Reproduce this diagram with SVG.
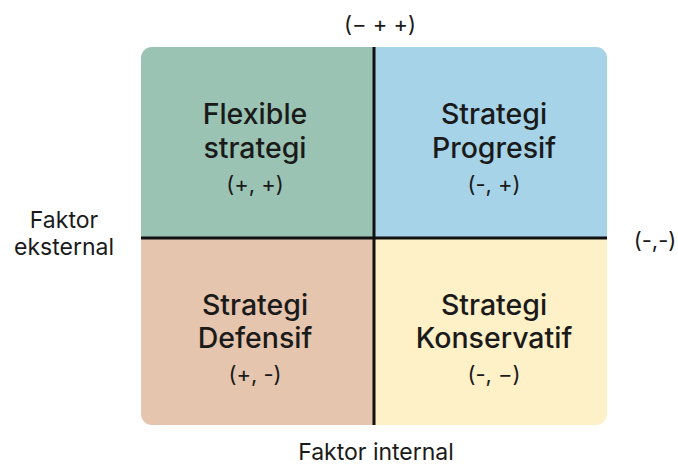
<svg xmlns="http://www.w3.org/2000/svg" width="678" height="466" viewBox="0 0 678 466">
<defs>
<clipPath id="c"><rect x="141" y="47" width="466" height="378" rx="11"/></clipPath>
</defs>
<style>
.t{font-family:Inter,"Noto Sans",sans-serif;font-size:28.5px;font-weight:500;fill:#1a1a1a;text-anchor:middle}
.s{font-family:Inter,"Noto Sans",sans-serif;font-size:22px;fill:#1a1a1a;text-anchor:middle}
.l{font-family:Inter,"Noto Sans",sans-serif;font-size:23px;fill:#1a1a1a;text-anchor:middle}
.ax{stroke:#111;stroke-width:3}
</style>
<rect width="678" height="466" fill="#fff"/>
<g clip-path="url(#c)">
<g id="q1"><rect x="141" y="47" width="233" height="191" fill="#9BC3B4"/></g>
<g id="q2"><rect x="374" y="47" width="233" height="191" fill="#A6D3E8"/></g>
<g id="q3"><rect x="141" y="238" width="233" height="187" fill="#E6C5AE"/></g>
<g id="q4"><rect x="374" y="238" width="233" height="187" fill="#FEF0C7"/></g>
</g>
<g id="axes">
<line class="ax" x1="374" y1="47" x2="374" y2="425"/>
<line class="ax" x1="141" y1="238" x2="607" y2="238"/>
</g>
<g id="t1">
<text class="t" x="255" y="124">Flexible</text>
<text class="t" x="255" y="158">strategi</text>
<text class="s" x="255" y="192">(+, +)</text>
</g>
<g id="t2">
<text class="t" x="494" y="124">Strategi</text>
<text class="t" x="494" y="158">Progresif</text>
<text class="s" x="494" y="192">(-, +)</text>
</g>
<g id="t3">
<text class="t" x="255" y="315">Strategi</text>
<text class="t" x="255" y="348">Defensif</text>
<text class="s" x="255" y="382">(+, -)</text>
</g>
<g id="t4">
<text class="t" x="494" y="315">Strategi</text>
<text class="t" x="494" y="348">Konservatif</text>
<text class="s" x="494" y="382">(-, −)</text>
</g>
<g id="labels">
<text class="s" x="380" y="32">(− + +)</text>
<text class="s" x="655" y="248">(-,-)</text>
<text class="l" x="64" y="228">Faktor</text>
<text class="l" x="64" y="255">eksternal</text>
<text class="l" x="376" y="460">Faktor internal</text>
</g>
</svg>
